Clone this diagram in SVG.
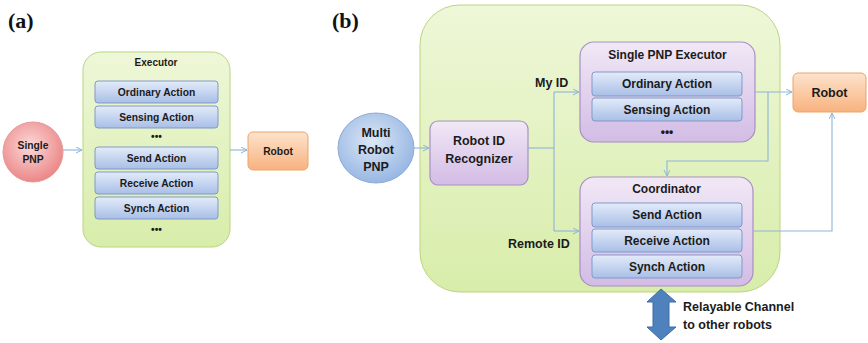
<svg xmlns="http://www.w3.org/2000/svg" width="868" height="343" viewBox="0 0 868 343">
<defs>
<linearGradient id="gGreen" x1="0" y1="0" x2="0" y2="1"><stop offset="0" stop-color="#eef7d8"/><stop offset="1" stop-color="#d8edaa"/></linearGradient>
<linearGradient id="gPurple" x1="0" y1="0" x2="0" y2="1"><stop offset="0" stop-color="#f1e8f6"/><stop offset="1" stop-color="#d3bce5"/></linearGradient>
<linearGradient id="gBlue" x1="0" y1="0" x2="0" y2="1"><stop offset="0" stop-color="#e3ebf9"/><stop offset="1" stop-color="#a9bfe7"/></linearGradient>
<linearGradient id="gOrange" x1="0" y1="0" x2="0" y2="1"><stop offset="0" stop-color="#fde3cc"/><stop offset="1" stop-color="#f8b27f"/></linearGradient>
<radialGradient id="gPink" cx="0.45" cy="0.4" r="0.6"><stop offset="0" stop-color="#fbd9d9"/><stop offset="1" stop-color="#ec8787"/></radialGradient>
<radialGradient id="gSky" cx="0.45" cy="0.4" r="0.6"><stop offset="0" stop-color="#dce7f6"/><stop offset="1" stop-color="#97b7e3"/></radialGradient>
<marker id="arr" markerWidth="8" markerHeight="8" refX="6" refY="3" orient="auto" markerUnits="userSpaceOnUse"><path d="M0,0 L6,3 L0,6" fill="none" stroke="#8fb3d9" stroke-width="1"/></marker>
</defs>
<style>
.green{fill:url(#gGreen);stroke:#b9d67f;stroke-width:1}
.purple{fill:url(#gPurple);stroke:#a78fc4;stroke-width:1.2}
.act{fill:url(#gBlue);stroke:#8199c9;stroke-width:1}
.robot{fill:url(#gOrange);stroke:#e9a56f;stroke-width:1}
.t{font-family:"Liberation Sans",Arial,sans-serif;font-weight:bold;fill:#1b1b1b;text-anchor:middle}
.sa{font-size:10.3px}
.sb{font-size:12px}
.lb{font-size:12.5px}
.panel{font-family:"Liberation Serif","Times New Roman",serif;font-weight:bold;font-size:22px;fill:#111}
.conn{fill:none;stroke:#8fb3d9;stroke-width:1.1}
</style>
<rect width="868" height="343" fill="#ffffff"/>
<text class="panel" x="8" y="28">(a)</text>
<text class="panel" x="332" y="28">(b)</text>

<g id="single-pnp">
<circle cx="33" cy="152" r="30" fill="url(#gPink)" stroke="#e49a9a" stroke-width="1"/>
<text class="t sa" x="33" y="149">Single</text>
<text class="t sa" x="33" y="163">PNP</text>
</g>
<g id="executor">
<rect class="green" x="83" y="52" width="147" height="195" rx="18"/>
<text class="t" style="font-size:10px" x="156" y="66">Executor</text>
<rect class="act" x="95" y="81" width="123" height="22" rx="3"/>
<text class="t sa" x="156.5" y="96">Ordinary Action</text>
<rect class="act" x="95" y="106" width="123" height="22" rx="3"/>
<text class="t sa" x="156.5" y="121">Sensing Action</text>
<text class="t sa" x="156.5" y="140">•••</text>
<rect class="act" x="95" y="147" width="123" height="22" rx="3"/>
<text class="t sa" x="156.5" y="162">Send Action</text>
<rect class="act" x="95" y="172" width="123" height="22" rx="3"/>
<text class="t sa" x="156.5" y="187">Receive Action</text>
<rect class="act" x="95" y="197" width="123" height="22" rx="3"/>
<text class="t sa" x="156.5" y="212">Synch Action</text>
<text class="t sa" x="156.5" y="233">•••</text>
</g>
<g id="robot-a">
<rect class="robot" x="248" y="132" width="60" height="38" rx="5"/>
<text class="t sa" x="278" y="155">Robot</text>
</g>

<g id="system-b">
<rect class="green" x="420" y="5" width="360" height="287" rx="40"/>
</g>
<g id="multi-robot-pnp">
<ellipse cx="376" cy="148" rx="38" ry="35" fill="url(#gSky)" stroke="#8fa9d2" stroke-width="1"/>
<text class="t lb" x="376" y="137">Multi</text>
<text class="t lb" x="376" y="154">Robot</text>
<text class="t lb" x="376" y="171">PNP</text>
</g>
<g id="recognizer">
<rect class="purple" x="430" y="121" width="98" height="64" rx="8"/>
<text class="t lb" x="479" y="145">Robot ID</text>
<text class="t lb" x="479" y="163">Recognizer</text>
</g>
<g id="single-pnp-executor">
<rect class="purple" x="580" y="42" width="175" height="100" rx="14"/>
<text class="t sb" x="667.5" y="59">Single PNP Executor</text>
<rect class="act" x="592" y="72" width="150" height="24" rx="3"/>
<text class="t sb" x="667" y="88">Ordinary Action</text>
<rect class="act" x="592" y="98" width="150" height="23" rx="3"/>
<text class="t sb" x="667" y="114">Sensing Action</text>
<text class="t sb" x="667" y="136">•••</text>
</g>
<g id="coordinator">
<rect class="purple" x="580" y="177" width="173" height="109" rx="14"/>
<text class="t sb" x="666.5" y="193">Coordinator</text>
<rect class="act" x="592" y="203" width="150" height="24" rx="3"/>
<text class="t sb" x="667" y="219">Send Action</text>
<rect class="act" x="592" y="229" width="150" height="23" rx="3"/>
<text class="t sb" x="667" y="245">Receive Action</text>
<rect class="act" x="592" y="255" width="150" height="23" rx="3"/>
<text class="t sb" x="667" y="271">Synch Action</text>
</g>
<g id="robot-b">
<rect class="robot" x="793" y="73" width="73" height="39" rx="5"/>
<text class="t lb" x="829.5" y="97">Robot</text>
</g>
<g id="channel">
<polygon points="661,289 676,302 669,302 669,327 676,327 661,340 647,327 653,327 653,302 647,302" fill="#4f81bd" stroke="#3d6ca8" stroke-width="1"/>
<text class="t lb" style="text-anchor:start" x="683" y="311">Relayable Channel</text>
<text class="t lb" style="text-anchor:start" x="683" y="329">to other robots</text>
</g>

<g id="connectors">
<line class="conn" x1="63" y1="150" x2="82" y2="150" marker-end="url(#arr)"/>
<line class="conn" x1="230" y1="150" x2="247" y2="150" marker-end="url(#arr)"/>
<line class="conn" x1="414" y1="148" x2="429" y2="148" marker-end="url(#arr)"/>
<polyline class="conn" points="528,148 554,148"/>
<polyline class="conn" points="554,92 554,231"/>
<line class="conn" x1="554" y1="92" x2="579" y2="92" marker-end="url(#arr)"/>
<line class="conn" x1="554" y1="231" x2="579" y2="231" marker-end="url(#arr)"/>
<line class="conn" x1="755" y1="92" x2="792" y2="92" marker-end="url(#arr)"/>
<polyline class="conn" points="768,92 768,161 667,161 667,176" marker-end="url(#arr)"/>
<polyline class="conn" points="753,231 832,231 832,113" marker-end="url(#arr)"/>
<text class="t lb" style="text-anchor:start" x="535" y="87">My ID</text>
<text class="t lb" style="text-anchor:start" x="508" y="248">Remote ID</text>
</g>
</svg>
